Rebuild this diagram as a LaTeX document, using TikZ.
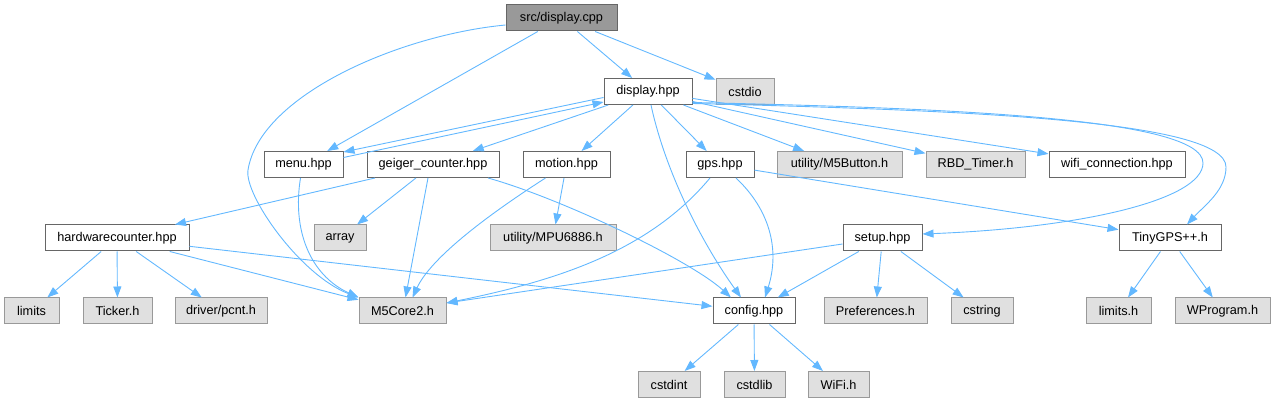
\documentclass[tikz,border=0pt]{standalone}
\usepackage{fontspec}
\setmainfont{Liberation Sans}
\usetikzlibrary{arrows.meta,calc}
\definecolor{edgec}{HTML}{63B8FF}
\definecolor{boxb}{HTML}{666666}
\definecolor{extf}{HTML}{E0E0E0}
\definecolor{extb}{HTML}{999999}
\definecolor{rootf}{HTML}{999999}
\begin{document}
\begin{tikzpicture}[x=1pt,y=-1pt,
  box/.style={draw=boxb, fill=white, line width=1pt, minimum height=26pt, inner sep=0pt,
    font=\fontsize{12.7}{14}\selectfont},
  ext/.style={box, draw=extb, fill=extf},
  rootbox/.style={box, fill=rootf},
  e/.style={draw=edgec, line width=0.9pt, -{Triangle[length=11pt,width=8pt]}}]
\useasboundingbox (0,0) rectangle (1275,403);
% row 0
\node[rootbox, minimum width=111pt] (root) at (561.5,18) {src/display.cpp};
% row 1
\node[box, minimum width=88pt] (dhpp) at (648,91.5) {display.hpp};
\node[ext, minimum width=58pt] (cstdio) at (745,91.5) {cstdio};
% row 2
\node[box, minimum width=79pt] (menu) at (303.5,164.5) {menu.hpp};
\node[box, minimum width=132pt] (geiger) at (433,164.5) {geiger\_counter.hpp};
\node[box, minimum width=87pt] (motion) at (566.5,164.5) {motion.hpp};
\node[box, minimum width=68pt] (gps) at (720,164.5) {gps.hpp};
\node[ext, minimum width=125pt] (m5btn) at (839.5,164.5) {utility/M5Button.h};
\node[ext, minimum width=99pt] (rbd) at (975.5,164.5) {RBD\_Timer.h};
\node[box, minimum width=136pt] (wifi) at (1117,164.5) {wifi\_connection.hpp};
% row 3
\node[box, minimum width=144pt] (hwc) at (117,238) {hardwarecounter.hpp};
\node[ext, minimum width=52pt] (array) at (340,238) {array};
\node[ext, minimum width=126pt] (mpu) at (553,238) {utility/MPU6886.h};
\node[box, minimum width=79pt] (setup) at (882.5,238) {setup.hpp};
\node[box, minimum width=102pt] (tinygps) at (1170,238) {TinyGPS++.h};
% row 4
\node[ext, minimum width=55pt] (limits) at (31.5,311) {limits};
\node[ext, minimum width=69pt] (ticker) at (117.5,311) {Ticker.h};
\node[ext, minimum width=92pt] (pcnt) at (221,311) {driver/pcnt.h};
\node[ext, minimum width=87pt] (m5core2) at (402.5,311) {M5Core2.h};
\node[box, minimum width=82pt] (config) at (754,311) {config.hpp};
\node[ext, minimum width=103pt] (prefs) at (875.5,311) {Preferences.h};
\node[ext, minimum width=62pt] (cstring) at (982,311) {cstring};
\node[ext, minimum width=65pt] (limitsh) at (1118.5,311) {limits.h};
\node[ext, minimum width=95pt] (wprog) at (1222.5,311) {WProgram.h};
% row 5
\node[ext, minimum width=62pt] (cstdint) at (669,384.5) {cstdint};
\node[ext, minimum width=61pt] (cstdlib) at (754.5,384.5) {cstdlib};
\node[ext, minimum width=61pt] (wifih) at (838.5,384.5) {WiFi.h};

% edges from root
\draw[e] (root) -- (dhpp);
\draw[e] (root) -- (cstdio);
\draw[e] (root) -- (menu);
\draw[e] ($(root.west)+(0,7)$) .. controls (400,35) and (260,95) .. (248,170)
  .. controls (244,195) and (300,275) .. (m5core2.north west);
% edges from display.hpp
\draw[e] ($(dhpp.west)+(0,6)$) -- ($(menu.north east)+(0,1)$);
\draw[e] ($(menu.east)+(0,-7)$) -- ($(dhpp.south west)+(0,-3)$);
\draw[e] (dhpp) -- (geiger);
\draw[e] (dhpp) -- (motion);
\draw[e] (dhpp) -- (gps);
\draw[e] (dhpp) -- (m5btn);
\draw[e] (dhpp) -- (rbd);
\draw[e] (dhpp) -- (wifi);
\draw[e] ($(dhpp.east)+(0,11)$) .. controls (950,108) and (1203,118) .. (1203,163)
  .. controls (1203,200) and (1080,228) .. ($(setup.east)+(0,-4)$);
\draw[e] ($(dhpp.east)+(0,12)$) .. controls (960,110) and (1226,120) .. (1226,167)
  .. controls (1226,190) and (1205,205) .. ($(tinygps.north)+(17,0)$);
\draw[e] ($(dhpp.south)+(3,0)$) .. controls (665,170) and (700,240) .. ($(config.north)+(-13,0)$);
% menu
\draw[e] ($(menu.south)+(-3,0)$) .. controls (292,230) and (310,275) .. (m5core2.north west);
% geiger
\draw[e] (geiger) -- (hwc);
\draw[e] (geiger) -- (array);
\draw[e] ($(geiger.south)+(-5,0)$) -- ($(m5core2.north)+(3,0)$);
\draw[e] ($(geiger.south)+(55,0)$) .. controls (560,198) and (690,260) .. ($(config.north)+(-23,0)$);
% motion
\draw[e] (motion) -- (mpu);
\draw[e] ($(motion.south)+(-21,0)$) .. controls (480,220) and (430,260) .. ($(m5core2.north)+(10,0)$);
% gps
\draw[e] ($(gps.south)+(-10,0)$) .. controls (650,250) and (560,280) .. ($(m5core2.east)+(0,-8)$);
\draw[e] ($(gps.south)+(16,0)$) .. controls (770,210) and (780,250) .. ($(config.north)+(11,0)$);
\draw[e] (gps) -- (tinygps);
% hardwarecounter
\draw[e] (hwc) -- (limits);
\draw[e] (hwc) -- (ticker);
\draw[e] (hwc) -- (pcnt);
\draw[e] (hwc) -- (m5core2);
\draw[e] (hwc) -- (config);
% setup
\draw[e] ($(setup.west)+(0,6)$) -- ($(m5core2.east)+(0,-8)$);
\draw[e] (setup) -- (config);
\draw[e] (setup) -- (prefs);
\draw[e] (setup) -- (cstring);
% config
\draw[e] (config) -- (cstdint);
\draw[e] (config) -- (cstdlib);
\draw[e] (config) -- (wifih);
% tinygps
\draw[e] (tinygps) -- (limitsh);
\draw[e] (tinygps) -- (wprog);
\end{tikzpicture}
\end{document}
